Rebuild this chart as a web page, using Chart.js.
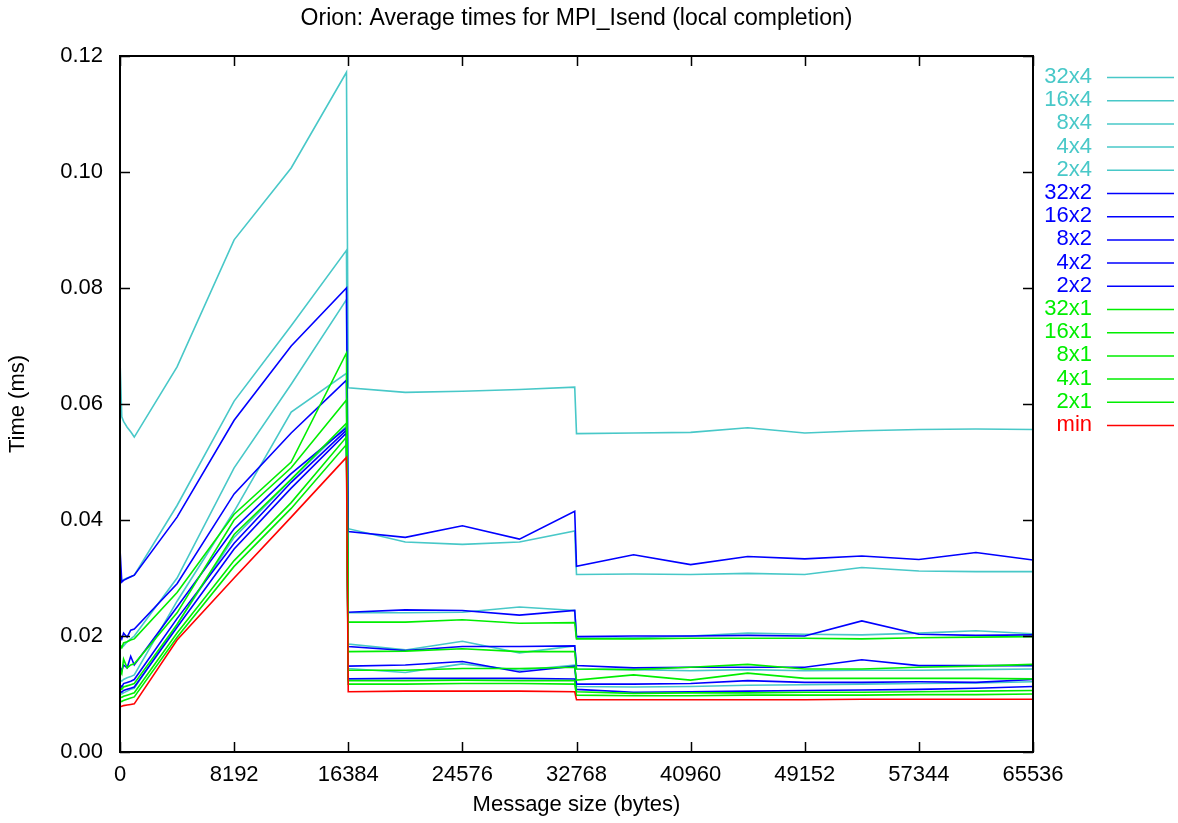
<!DOCTYPE html>
<html>
<head>
<meta charset="utf-8">
<script src="https://cdn.jsdelivr.net/npm/chart.js@4.4.0/dist/chart.umd.min.js"></script>
<style>
html,body{margin:0;padding:0;background:#fff;}
#wrap{width:1178px;height:823px;position:relative;}
</style>
</head>
<body>
<div id="wrap"><canvas id="c" width="1178" height="823"></canvas></div>
<script>
const titleText = "Orion: Average times for MPI_Isend (local completion)";
const xTitle = "Message size (bytes)";
const yTitle = "Time (ms)";

const sizes = [0, 128, 256, 512, 768, 1024, 4096, 8192, 12288, 16256, 16384, 20480, 24576, 28672, 32640, 32768, 36864, 40960, 45056, 49152, 53248, 57344, 61440, 65536];

const seriesNames = ["32x4","16x4","8x4","4x4","2x4","32x2","16x2","8x2","4x2","2x2","32x1","16x1","8x1","4x1","2x1","min"];

const s32x4 = [0.0676,0.0578,0.0570,0.0560,0.0552,0.0543,0.0664,0.0883,0.1007,0.1172,0.0628,0.0620,0.0622,0.0625,0.0629,0.0549,0.0550,0.0551,0.0559,0.0550,0.0554,0.0556,0.0557,0.0556];
const s16x4 = [0.0300,0.0295,0.0297,0.0300,0.0302,0.0305,0.0425,0.0605,0.0735,0.0865,0.0385,0.0362,0.0358,0.0362,0.0381,0.0306,0.0307,0.0306,0.0308,0.0306,0.0318,0.0312,0.0311,0.0311];
const s8x4  = [0.0185,0.0180,0.0183,0.0190,0.0195,0.0200,0.0300,0.0490,0.0634,0.0780,0.0240,0.0240,0.0241,0.0250,0.0244,0.0196,0.0197,0.0200,0.0205,0.0203,0.0202,0.0205,0.0209,0.0204];
const s4x4  = [0.0125,0.0122,0.0125,0.0128,0.0130,0.0133,0.0260,0.0415,0.0586,0.0653,0.0186,0.0176,0.0191,0.0171,0.0183,0.0143,0.0142,0.0140,0.0142,0.0140,0.0141,0.0141,0.0142,0.0143];
const s2x4  = [0.0100,0.0100,0.0102,0.0105,0.0108,0.0110,0.0220,0.0370,0.0470,0.0562,0.0144,0.0137,0.0152,0.0141,0.0150,0.0113,0.0112,0.0113,0.0115,0.0116,0.0117,0.0118,0.0119,0.0121];

const s32x2 = [0.0350,0.0293,0.0296,0.0299,0.0302,0.0305,0.0405,0.0572,0.0700,0.0800,0.0380,0.0370,0.0390,0.0367,0.0415,0.0320,0.0340,0.0323,0.0337,0.0333,0.0338,0.0332,0.0344,0.0331];
const s16x2 = [0.0202,0.0195,0.0205,0.0198,0.0210,0.0212,0.0290,0.0445,0.0550,0.0641,0.0241,0.0245,0.0244,0.0236,0.0244,0.0199,0.0200,0.0200,0.0201,0.0200,0.0226,0.0203,0.0201,0.0202];
const s8x2  = [0.0147,0.0140,0.0150,0.0145,0.0165,0.0150,0.0250,0.0385,0.0480,0.0559,0.0182,0.0175,0.0182,0.0182,0.0183,0.0149,0.0145,0.0146,0.0146,0.0146,0.0159,0.0149,0.0149,0.0149];
const s4x2  = [0.0116,0.0112,0.0118,0.0120,0.0122,0.0125,0.0230,0.0360,0.0465,0.0555,0.0148,0.0150,0.0156,0.0138,0.0148,0.0117,0.0117,0.0118,0.0123,0.0120,0.0120,0.0121,0.0120,0.0125];
const s2x2  = [0.0105,0.0103,0.0106,0.0108,0.0110,0.0112,0.0215,0.0350,0.0455,0.0550,0.0126,0.0127,0.0127,0.0127,0.0126,0.0108,0.0103,0.0104,0.0105,0.0106,0.0107,0.0108,0.0110,0.0113];

const s32x1 = [0.0185,0.0180,0.0188,0.0190,0.0193,0.0195,0.0275,0.0410,0.0500,0.0688,0.0224,0.0224,0.0228,0.0222,0.0223,0.0195,0.0195,0.0196,0.0196,0.0196,0.0195,0.0197,0.0198,0.0199];
const s16x1 = [0.0141,0.0135,0.0160,0.0145,0.0150,0.0152,0.0240,0.0400,0.0490,0.0607,0.0173,0.0174,0.0178,0.0173,0.0173,0.0143,0.0142,0.0146,0.0151,0.0143,0.0143,0.0146,0.0148,0.0151];
const s8x1  = [0.0110,0.0108,0.0112,0.0114,0.0116,0.0118,0.0220,0.0375,0.0470,0.0567,0.0141,0.0141,0.0144,0.0144,0.0146,0.0124,0.0133,0.0124,0.0136,0.0127,0.0127,0.0127,0.0127,0.0126];
const s4x1  = [0.0095,0.0094,0.0096,0.0098,0.0100,0.0102,0.0205,0.0330,0.0430,0.0543,0.0123,0.0123,0.0124,0.0123,0.0123,0.0104,0.0101,0.0102,0.0102,0.0103,0.0103,0.0104,0.0105,0.0106];
const s2x1  = [0.0088,0.0087,0.0089,0.0091,0.0093,0.0095,0.0198,0.0320,0.0420,0.0530,0.0117,0.0117,0.0118,0.0118,0.0117,0.0098,0.0097,0.0097,0.0098,0.0098,0.0098,0.0099,0.0099,0.0100];
const sMin  = [0.0078,0.0079,0.0080,0.0081,0.0082,0.0083,0.0193,0.0300,0.0405,0.0508,0.0104,0.0105,0.0105,0.0105,0.0104,0.0090,0.0090,0.0090,0.0090,0.0090,0.0091,0.0091,0.0091,0.0091];

const seriesValues = [s32x4,s16x4,s8x4,s4x4,s2x4,s32x2,s16x2,s8x2,s4x2,s2x2,s32x1,s16x1,s8x1,s4x1,s2x1,sMin];

const xTicks = [0, 8192, 16384, 24576, 32768, 40960, 49152, 57344, 65536];
const yTicks = [0, 0.02, 0.04, 0.06, 0.08, 0.10, 0.12];

const CYAN = '#48c8c8', BLUE = '#0000ff', GREEN = '#00ee00', RED = '#ff0000';
function colorFor(i){ return i < 5 ? CYAN : i < 10 ? BLUE : i < 15 ? GREEN : RED; }

const FONT = "'Liberation Sans', Arial, Helvetica, sans-serif";
const FS = 22;

const datasets = seriesNames.map((name, i) => ({
  label: name,
  data: sizes.map((x, k) => ({x: x, y: seriesValues[i][k]})),
  borderColor: colorFor(i),
  backgroundColor: colorFor(i),
  borderWidth: 1.6,
  pointRadius: 0,
  tension: 0,
  fill: false,
  order: -i
}));

const framePlugin = {
  id: 'frame',
  afterDatasetsDraw(chart) {
    const ctx = chart.ctx, a = chart.chartArea;
    const xs = chart.scales.x, ys = chart.scales.y;
    ctx.save();
    ctx.strokeStyle = '#000';
    ctx.lineWidth = 2;
    ctx.strokeRect(a.left, a.top, a.right - a.left, a.bottom - a.top);
    ctx.lineWidth = 1.5;
    const L = 10;
    ctx.beginPath();
    xTicks.forEach(v => {
      const px = Math.round(xs.getPixelForValue(v)) + 0.5;
      ctx.moveTo(px, a.bottom); ctx.lineTo(px, a.bottom - L);
      ctx.moveTo(px, a.top); ctx.lineTo(px, a.top + L);
    });
    yTicks.forEach(v => {
      const py = Math.round(ys.getPixelForValue(v)) + 0.5;
      ctx.moveTo(a.left, py); ctx.lineTo(a.left + L, py);
      ctx.moveTo(a.right, py); ctx.lineTo(a.right - L, py);
    });
    ctx.stroke();
    ctx.restore();
  },
  afterDraw(chart) {
    const ctx = chart.ctx, a = chart.chartArea;
    ctx.save();
    ctx.fillStyle = '#000';
    ctx.font = '23px ' + FONT;
    ctx.textAlign = 'center';
    ctx.textBaseline = 'middle';
    ctx.fillText(titleText, (a.left + a.right) / 2, 19);
    ctx.font = FS + 'px ' + FONT;
    ctx.textAlign = 'right';
    chart.data.datasets.forEach((ds, i) => {
      const y = 77 + i * 23.2;
      ctx.fillStyle = ds.borderColor;
      ctx.fillText(ds.label, 1092, y);
      ctx.strokeStyle = ds.borderColor;
      ctx.lineWidth = 1.5;
      ctx.beginPath();
      ctx.moveTo(1107, y + 0.5); ctx.lineTo(1174, y + 0.5);
      ctx.stroke();
    });
    ctx.restore();
  }
};

new Chart(document.getElementById('c'), {
  type: 'line',
  data: { datasets },
  options: {
    responsive: false,
    animation: false,
    devicePixelRatio: 1,
    layout: { padding: { top: 56, right: 145, bottom: 0, left: 0 } },
    plugins: { legend: { display: false }, tooltip: { enabled: false }, title: { display: false } },
    scales: {
      x: {
        type: 'linear', min: 0, max: 65536,
        afterBuildTicks(scale) { scale.ticks = xTicks.map(v => ({value: v})); },
        afterFit(scale) { scale.height = 71; },
        grid: { display: false, drawTicks: false },
        border: { display: false },
        ticks: { color: '#000', font: { family: FONT, size: FS }, padding: 10, maxRotation: 0, autoSkip: false,
                 callback: v => String(v) },
        title: { display: true, text: xTitle, color: '#000', font: { family: FONT, size: FS }, padding: { top: 0, bottom: 5 } }
      },
      y: {
        type: 'linear', min: 0, max: 0.12,
        afterBuildTicks(scale) { scale.ticks = yTicks.map(v => ({value: v})); },
        afterFit(scale) { scale.width = 120; },
        grid: { display: false, drawTicks: false },
        border: { display: false },
        ticks: { color: '#000', font: { family: FONT, size: FS }, padding: 17, autoSkip: false,
                 callback: v => Number(v).toFixed(2) },
        title: { display: true, text: yTitle, color: '#000', font: { family: FONT, size: FS }, padding: { top: 5, bottom: 0 } }
      }
    }
  },
  plugins: [framePlugin]
});
</script>
</body>
</html>
